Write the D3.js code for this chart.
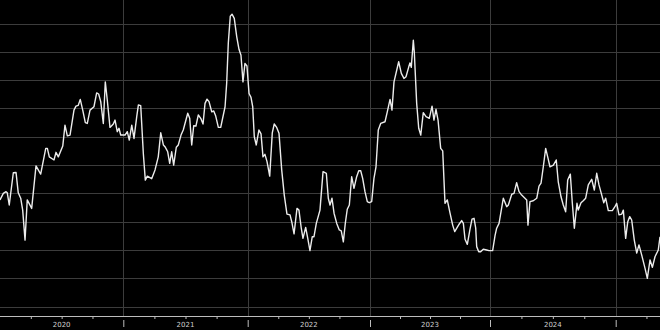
<!DOCTYPE html>
<html>
<head>
<meta charset="utf-8">
<script src="https://cdn.jsdelivr.net/npm/d3@7"></script>
<style>
  html, body { margin: 0; padding: 0; background: #000; }
  svg { display: block; }
  .grid line { stroke: #3c3c3c; stroke-width: 1; }
  .axis path, .axis line { stroke: #bdbdbd; }
  .lbl { fill: #cfcfcf; font: 7px "DejaVu Sans", sans-serif; }
</style>
</head>
<body>
<div id="chart"></div>
<script>
// decimal year of each observation
var times = [
  2020.000, 2020.027, 2020.049, 2020.059, 2020.075, 2020.108, 2020.130, 2020.148, 2020.168, 2020.184,
  2020.203, 2020.221, 2020.257, 2020.292, 2020.330, 2020.371, 2020.384, 2020.400, 2020.438, 2020.454,
  2020.473, 2020.509, 2020.527, 2020.546, 2020.568, 2020.600, 2020.616, 2020.635, 2020.651, 2020.671,
  2020.692, 2020.708, 2020.730, 2020.762, 2020.784, 2020.800, 2020.817, 2020.838, 2020.854, 2020.870,
  2020.892, 2020.919, 2020.933, 2020.951, 2020.965, 2020.979,
  2021.014, 2021.032, 2021.048, 2021.068, 2021.086, 2021.108, 2021.121, 2021.140, 2021.161, 2021.177,
  2021.193, 2021.228, 2021.255, 2021.281, 2021.301, 2021.322, 2021.335, 2021.357, 2021.373, 2021.389,
  2021.405, 2021.426, 2021.442, 2021.464, 2021.482, 2021.518, 2021.534, 2021.550, 2021.566, 2021.584,
  2021.603, 2021.625, 2021.641, 2021.657, 2021.673, 2021.689, 2021.711, 2021.727, 2021.743, 2021.764,
  2021.783, 2021.818, 2021.831, 2021.844, 2021.860, 2021.874, 2021.892, 2021.912, 2021.930, 2021.946,
  2021.962, 2021.978, 2021.994,
  2022.011, 2022.027, 2022.041, 2022.054, 2022.070, 2022.092, 2022.109, 2022.125, 2022.141, 2022.158,
  2022.180, 2022.201, 2022.217, 2022.237, 2022.256, 2022.278, 2022.299, 2022.321, 2022.346, 2022.360,
  2022.379, 2022.403, 2022.419, 2022.438, 2022.452, 2022.474, 2022.491, 2022.509, 2022.528, 2022.542,
  2022.561, 2022.591, 2022.616, 2022.643, 2022.659, 2022.673, 2022.689, 2022.706, 2022.728, 2022.749,
  2022.765, 2022.782, 2022.798, 2022.814, 2022.831, 2022.850, 2022.869, 2022.891, 2022.908, 2022.924,
  2022.940, 2022.959, 2022.978, 2022.994,
  2023.014, 2023.033, 2023.050, 2023.069, 2023.089, 2023.125, 2023.144, 2023.167, 2023.183, 2023.200,
  2023.239, 2023.261, 2023.283, 2023.300, 2023.323, 2023.333, 2023.344, 2023.361, 2023.369, 2023.378,
  2023.389, 2023.406, 2023.423, 2023.444, 2023.467, 2023.494, 2023.517, 2023.533, 2023.550, 2023.567,
  2023.589, 2023.606, 2023.625, 2023.644, 2023.667, 2023.689, 2023.706, 2023.723, 2023.744, 2023.764,
  2023.778, 2023.792, 2023.811, 2023.833, 2023.850, 2023.867, 2023.881, 2023.889, 2023.906, 2023.922,
  2023.944, 2023.972, 2023.992,
  2024.021, 2024.040, 2024.053, 2024.072, 2024.106, 2024.133, 2024.146, 2024.173, 2024.191, 2024.212,
  2024.231, 2024.252, 2024.278, 2024.292, 2024.302, 2024.318, 2024.344, 2024.372, 2024.390, 2024.406,
  2024.424, 2024.443, 2024.459, 2024.477, 2024.504, 2024.527, 2024.543, 2024.565, 2024.583, 2024.602,
  2024.618, 2024.639, 2024.655, 2024.671, 2024.692, 2024.702, 2024.724, 2024.742, 2024.761, 2024.782,
  2024.809, 2024.830, 2024.849, 2024.867, 2024.889, 2024.905, 2024.920, 2024.941, 2024.973, 2024.994,
  2025.008, 2025.027, 2025.049, 2025.062, 2025.081, 2025.098, 2025.114, 2025.130, 2025.151, 2025.171,
  2025.189, 2025.211, 2025.238, 2025.257, 2025.279, 2025.298, 2025.320, 2025.346, 2025.360
];

var values = [
  3.77, 4.00, 4.06, 4.02, 3.59, 4.73, 4.74, 4.02, 3.83, 3.41,
  2.35, 3.77, 3.47, 4.97, 4.68, 5.59, 5.59, 5.29, 5.18, 5.45,
  5.29, 5.67, 6.41, 6.03, 6.06, 6.94, 7.08, 7.11, 7.32, 6.94,
  6.50, 6.47, 6.94, 7.06, 7.55, 7.51, 7.24, 6.47, 7.94, 7.30,
  6.33, 6.45, 6.59, 6.18, 6.30, 6.06,
  6.06, 6.18, 5.88, 6.41, 5.94, 6.71, 7.12, 7.10, 5.41, 4.47,
  4.61, 4.52, 4.83, 5.29, 6.14, 5.71, 5.65, 5.47, 5.06, 5.47,
  5.00, 5.63, 5.71, 6.06, 6.24, 6.83, 6.65, 5.71, 6.39, 6.38,
  6.77, 6.63, 6.45, 7.18, 7.33, 7.24, 6.88, 6.91, 6.73, 6.33,
  6.33, 7.06, 7.89, 9.30, 10.26, 10.33, 10.18, 9.53, 9.09, 8.88,
  7.94, 8.59, 8.50,
  7.53, 7.39, 7.06, 6.00, 5.71, 6.24, 6.10, 5.29, 5.38, 5.12,
  4.61, 6.14, 6.45, 6.33, 6.12, 4.83, 3.94, 3.27, 3.24, 3.00,
  2.57, 3.47, 3.41, 2.77, 2.41, 2.80, 2.41, 1.98, 2.47, 2.47,
  2.94, 3.41, 4.77, 4.71, 3.83, 3.59, 3.83, 3.30, 2.94, 2.71,
  2.68, 2.29, 2.94, 3.44, 3.59, 4.59, 4.18, 4.59, 4.80, 4.80,
  4.53, 4.06, 3.71, 3.67,
  3.71, 4.53, 4.94, 6.24, 6.47, 6.53, 6.88, 7.32, 6.94, 7.94,
  8.65, 8.24, 8.06, 8.12, 8.47, 8.61, 8.45, 9.41, 9.00, 8.18,
  7.18, 6.30, 6.06, 6.85, 6.71, 6.65, 7.08, 6.59, 6.97, 6.59,
  5.59, 5.50, 3.65, 3.77, 3.30, 2.88, 2.65, 2.77, 2.92, 3.04,
  2.94, 2.38, 2.20, 2.73, 3.09, 3.12, 2.77, 2.12, 1.94, 1.94,
  2.03, 2.00, 1.98,
  1.98, 2.51, 2.77, 2.94, 3.83, 3.53, 3.59, 3.97, 4.00, 4.38,
  4.06, 3.94, 3.83, 3.77, 2.88, 3.71, 3.74, 3.83, 4.26, 4.36,
  4.94, 5.59, 5.29, 4.94, 5.00, 5.18, 4.41, 3.88, 3.59, 3.35,
  4.47, 4.68, 3.65, 2.77, 3.65, 3.41, 3.67, 3.74, 3.83, 4.30,
  4.50, 4.12, 4.71, 4.30, 3.94, 3.67, 3.83, 3.39, 3.39, 3.53,
  3.65, 3.24, 3.27, 3.41, 2.41, 3.00, 3.18, 3.06, 2.35, 1.89,
  2.18, 1.83, 1.36, 1.00, 1.65, 1.39, 1.77, 2.00, 2.47
];

var years = [2020, 2021, 2022, 2023, 2024, 2025];
var yearLabels = ["2020", "2021", "2022", "2023", "2024"];
var gridValues = [0, 1, 2, 3, 4, 5, 6, 7, 8, 9, 10];

var W = 660, H = 330, axisY = 316;

var svg = d3.select("#chart").append("svg")
    .attr("width", W)
    .attr("height", H);

svg.append("rect").attr("width", W).attr("height", H).attr("fill", "#000");

// the source spaces the years slightly unevenly, so use a piecewise scale
var x = d3.scaleLinear()
    .domain(years.concat([d3.max(times)]))
    .range([0, 123.3, 247.7, 370, 490, 615.7, W]);

var y = d3.scaleLinear()
    .domain([-0.33, 10.83])
    .range([axisY, 0]);

// horizontal grid
svg.append("g").attr("class", "grid")
    .selectAll("line")
    .data(gridValues)
    .enter()
    .append("line")
    .attr("x1", 0)
    .attr("x2", W)
    .attr("y1", function (d) { return Math.round(y(d)) + 0.5; })
    .attr("y2", function (d) { return Math.round(y(d)) + 0.5; });

// vertical grid at year starts
svg.append("g").attr("class", "grid")
    .selectAll("line")
    .data(years.slice(1))
    .enter()
    .append("line")
    .attr("x1", function (d) { return Math.round(x(d)) + 0.5; })
    .attr("x2", function (d) { return Math.round(x(d)) + 0.5; })
    .attr("y1", 0)
    .attr("y2", axisY);

// quarterly minor ticks
var quarters = [];
years.forEach(function (yr) {
    [0.25, 0.5, 0.75].forEach(function (q) {
        if (yr + q <= d3.max(times)) quarters.push(yr + q);
    });
});

svg.append("g")
    .attr("class", "axis")
    .attr("transform", "translate(0," + axisY + ")")
    .call(d3.axisBottom(x).tickValues(quarters).tickSize(3).tickFormat(""))
    .call(function (g) { g.select(".domain").attr("d", "M0,0.5H" + W); });

svg.append("g")
    .attr("class", "axis")
    .attr("transform", "translate(0," + axisY + ")")
    .call(d3.axisBottom(x).tickValues(years.slice(1)).tickSize(11).tickFormat(""))
    .call(function (g) {
        g.select(".domain").remove();
        g.selectAll("line").attr("y1", 4);
    });

svg.append("g")
    .selectAll("text")
    .data(yearLabels)
    .enter()
    .append("text")
    .attr("class", "lbl")
    .attr("text-anchor", "middle")
    .attr("x", function (d) { return x(+d + 0.5); })
    .attr("y", 327)
    .text(function (d) { return d; });

// the series
var line = d3.line()
    .x(function (d, i) { return x(times[i]); })
    .y(function (d) { return y(d); });

svg.append("path")
    .datum(values)
    .attr("fill", "none")
    .attr("stroke", "#ececec")
    .attr("stroke-width", 1.4)
    .attr("stroke-linejoin", "round")
    .attr("d", line);
</script>
</body>
</html>
